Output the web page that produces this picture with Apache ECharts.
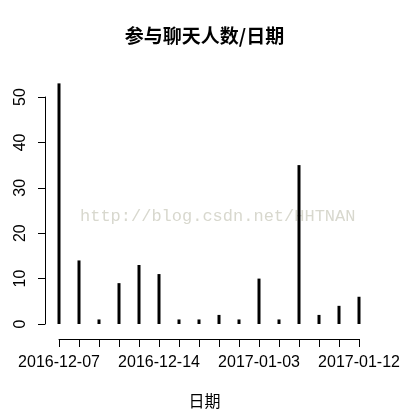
<!DOCTYPE html>
<html><head><meta charset="utf-8">
<script src="https://cdn.jsdelivr.net/npm/echarts@6/dist/echarts.min.js"></script>
<style>html,body{margin:0;padding:0;background:#fff}#c{width:409px;height:419px}</style>
</head><body><div id="c"></div>
<script>
const categories = ['2016-12-07','2016-12-08','2016-12-09','2016-12-10','2016-12-12','2016-12-14','2016-12-15','2016-12-16','2016-12-20','2016-12-27','2017-01-03','2017-01-04','2017-01-05','2017-01-06','2017-01-09','2017-01-12'];
const counts = [53, 14, 1, 9, 13, 11, 1, 1, 2, 1, 10, 1, 35, 2, 4, 6];
const yTicks = [0, 10, 20, 30, 40, 50];
const titleText = '参与聊天人数/日期';
const xName = '日期';
const watermark = 'http://blog.csdn.net/HHTNAN';

const chart = echarts.init(document.getElementById('c'), null, {renderer: 'canvas'});
chart.setOption({
  animation: false,
  backgroundColor: '#fff',
  title: {
    text: titleText, left: 'center', top: 21,
    textStyle: {fontFamily: 'Noto Sans CJK SC', fontSize: 19, fontWeight: 'bold', color: '#000'}
  },
  graphic: [{
    type: 'text', left: 80, top: 208, z: -10, silent: true,
    style: {text: watermark, font: '17px "Liberation Mono"', fill: '#d8d8ce'}
  }, {
    type: 'text', left: 'center', top: 393,
    style: {text: xName, font: '16px "Noto Sans CJK SC"', fill: '#000'}
  }],
  grid: {left: 59, right: 50, top: 97, bottom: 95, containLabel: false},
  xAxis: {
    type: 'category', data: categories, boundaryGap: false,
    offset: 15,
    axisLine: {onZero: false, lineStyle: {color: '#000', width: 1}},
    axisTick: {length: 8, interval: 0, lineStyle: {color: '#000'}},
    axisLabel: {interval: 4, margin: 16, fontSize: 16, fontFamily: 'Liberation Sans', color: '#000'}
  },
  yAxis: {
    type: 'value', min: yTicks[0], max: yTicks[yTicks.length - 1], interval: 10,
    offset: 14,
    splitLine: {show: false},
    axisLine: {show: true, onZero: false, lineStyle: {color: '#000', width: 1}},
    axisTick: {show: true, length: 7, lineStyle: {color: '#000'}},
    axisLabel: {rotate: 90, margin: 16, fontSize: 16, fontFamily: 'Liberation Sans', color: '#000'}
  },
  series: [{
    type: 'bar', data: counts, barWidth: 3, clip: false,
    itemStyle: {color: '#000'}
  }]
});
</script></body></html>
